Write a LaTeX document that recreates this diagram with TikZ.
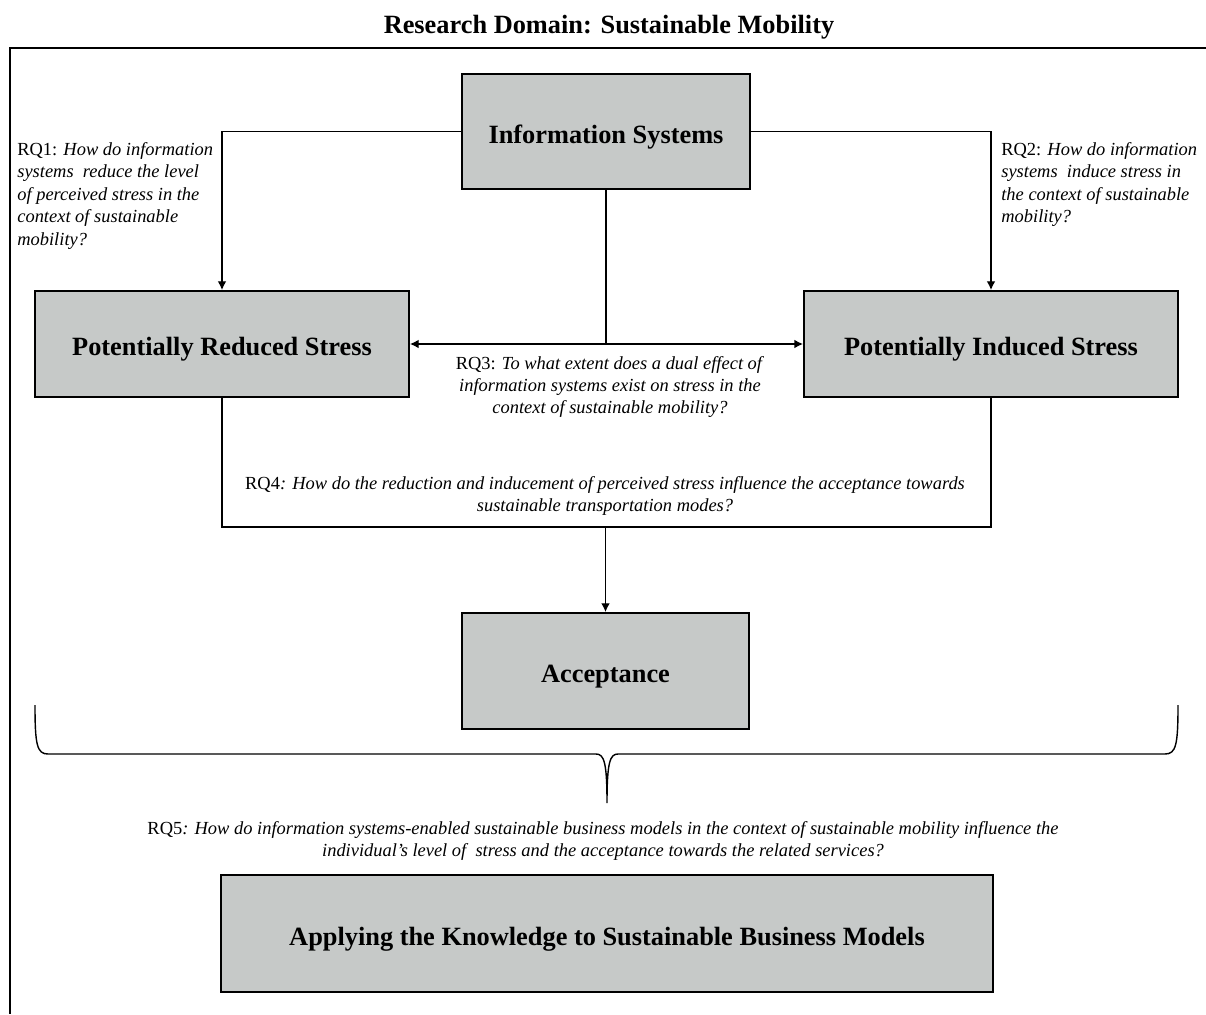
\documentclass[tikz,border=0pt]{standalone}
\usepackage{fontspec}
\setmainfont{Liberation Serif}
\usetikzlibrary{arrows.meta}
\definecolor{boxgray}{HTML}{C6C9C8}
\tikzset{
  rqbox/.style={draw, line width=1.1pt, fill=boxgray, inner sep=0pt,
    text height=13.5pt, text depth=0pt,
    font=\fontsize{15}{18}\selectfont\bfseries},
  rqtext/.style={inner sep=0pt, font=\fontsize{10.5}{12.8}\selectfont},
  link/.style={line width=0.8pt},
}
\begin{document}
\begin{tikzpicture}[x=0.02cm, y=-0.02cm, >={Latex[length=5pt,width=5pt]}]
  \useasboundingbox (0,0) rectangle (1206,1014);
  % domain frame, cut by the page
  \draw [line width=1.1pt] (1206,48) -- (10,48) -- (10,1014);
  \node (title) at (609,27) {\fontsize{15}{18}\selectfont\bfseries Research Domain: Sustainable Mobility};

  \node [rqbox, minimum width=5.76cm, minimum height=2.3cm] (info) at (606,131.5) {Information\ Systems};
  \node [rqbox, minimum width=7.48cm, minimum height=2.12cm] (red) at (222,344) {Potentially\ Reduced\ Stress};
  \node [rqbox, minimum width=7.48cm, minimum height=2.12cm] (ind) at (991,344) {Potentially\ Induced\ Stress};
  \node [rqbox, minimum width=5.74cm, minimum height=2.32cm] (acc) at (605.5,671) {Acceptance};
  \node [rqbox, minimum width=15.44cm, minimum height=2.34cm] (app) at (607,933.5) {Applying\ the\ Knowledge\ to\ Sustainable\ Business\ Models};

  \node [rqtext, anchor=north west, align=left] (rq1) at (17,142) {RQ1: \textit{How do information}\\
    \textit{systems\ \ reduce the level}\\ \textit{of perceived stress in the}\\
    \textit{context of sustainable}\\ \textit{mobility?}};
  \node [rqtext, anchor=north west, align=left] (rq2) at (1001,142) {RQ2: \textit{How do information}\\
    \textit{systems\ \ induce stress in}\\ \textit{the context of sustainable}\\ \textit{mobility?}};
  \node [rqtext, align=center] (rq3) at (610,387) {RQ3: \textit{To what extent does a dual effect of}\\
    \textit{information systems exist on stress in the}\\ \textit{context of sustainable mobility?}};
  \node [rqtext, align=center] (rq4) at (605,496) {RQ4\textit{: How do the reduction and inducement of perceived stress influence the acceptance towards}\\
    \textit{sustainable transportation modes?}};
  \node [rqtext, align=center] (rq5) at (603,841) {RQ5\textit{: How do information systems-enabled sustainable business models in the context of sustainable mobility influence the}\\
    \textit{individual's level of\ \ stress and the acceptance towards the related services?}};

  % RQ1, RQ2
  \draw [link, ->] (info.west) -| (red.north);
  \draw [link, ->] (info.east) -| (ind.north);
  % RQ3
  \coordinate (mid) at (info.south |- red.east);
  \draw [link] (info.south) -- (mid);
  \draw [link, ->] (mid) -- (red.east);
  \draw [link, ->] (mid) -- (ind.west);
  % RQ4
  \coordinate (join) at (acc.north |- 0,527);
  \draw [link] (red.south) |- (join) -| (ind.south);
  \draw [link, ->] (join) -- (acc.north);

  % brace over the whole model
  \draw [link] (35,705) .. controls (35,745) and (37,754) .. (48,754) -- (596,754)
    .. controls (604,754) and (607,762) .. (607,803)
    .. controls (607,762) and (610,754) .. (618,754) -- (1165,754)
    .. controls (1176,754) and (1178,745) .. (1178,705);
\end{tikzpicture}
\end{document}
